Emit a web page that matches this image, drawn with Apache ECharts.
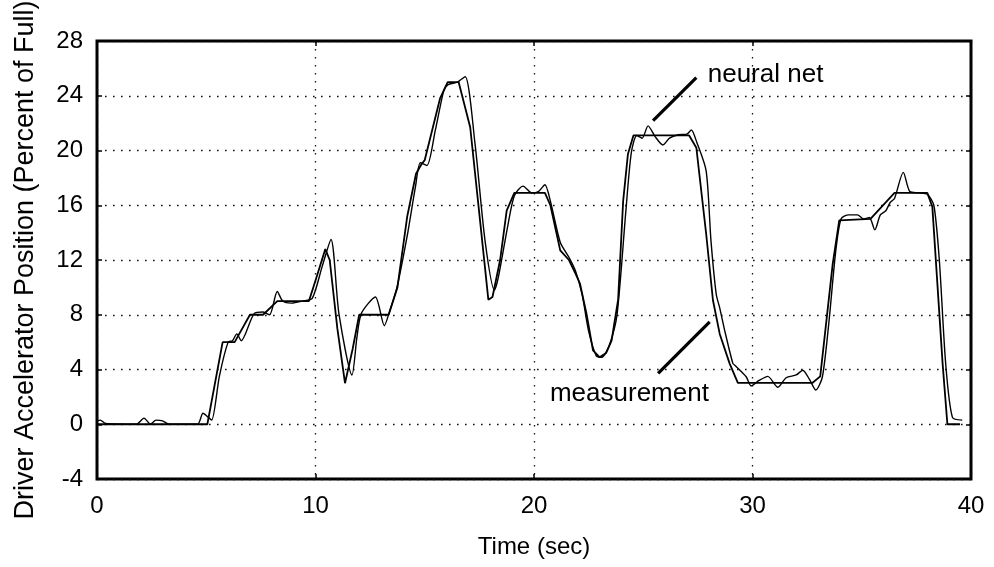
<!DOCTYPE html>
<html>
<head>
<meta charset="utf-8">
<script src="https://cdn.jsdelivr.net/npm/echarts@6/dist/echarts.min.js"></script>
<style>
html,body{margin:0;padding:0;background:#fff;}
#chart{width:994px;height:567px;}
</style>
</head>
<body>
<div id="chart"></div>
<script>
// ---- data ----
var measTime  = [0, 5.05, 5.75, 6.3, 7.0, 7.6, 8.25, 9.7, 10.0, 10.45, 10.65, 11.0, 11.35, 11.7, 12.0, 13.35, 13.75, 14.2, 14.6, 14.85, 15.0, 15.7, 16.05, 16.55, 17.08, 17.53, 17.91, 18.1, 18.45, 18.75, 19.1, 20.5, 20.75, 21.2, 21.6, 21.9, 22.1, 22.4, 22.7, 23.0, 23.3, 23.55, 23.85, 24.08, 24.3, 24.55, 27.1, 27.43, 27.88, 28.19, 28.5, 28.95, 29.33, 32.75, 33.1, 33.67, 33.97, 35.4, 36.5, 38.0, 38.23, 38.7, 38.92, 39.5];
var measValue = [0, 0, 6.0, 6.0, 8.0, 8.0, 9.0, 9.0, 10.5, 12.8, 12.0, 7.0, 3.0, 5.5, 8.0, 8.0, 10.0, 15.2, 18.3, 19.0, 19.3, 23.8, 25.0, 25.0, 21.7, 14.9, 9.1, 9.3, 12.0, 15.6, 16.9, 16.9, 16.0, 12.7, 12.0, 11.0, 10.3, 8.1, 5.4, 4.9, 5.2, 6.1, 9.1, 16.3, 19.75, 21.1, 21.1, 20.2, 13.9, 9.06, 6.6, 4.45, 3.03, 3.03, 3.5, 11.7, 14.9, 15.0, 16.9, 16.9, 15.9, 4.45, 0.0, 0.0];

var nnTime  = [0, 0.15, 0.4, 1.8, 2.15, 2.45, 2.7, 3.0, 3.3, 4.6, 4.85, 5.1, 5.25, 5.6, 6.0, 6.2, 6.4, 6.6, 7.2, 7.6, 7.9, 8.25, 8.5, 8.9, 9.4, 9.85, 10.3, 10.71, 11.07, 11.67, 11.9, 12.1, 12.74, 13.15, 13.4, 13.73, 14.19, 14.57, 14.8, 15.1, 15.48, 15.86, 16.05, 16.5, 16.85, 17.3, 17.76, 18.19, 18.37, 18.8, 19.1, 19.5, 19.9, 20.2, 20.5, 20.75, 21.2, 21.6, 21.9, 22.2, 22.5, 22.85, 23.1, 23.45, 23.8, 24.2, 24.45, 24.7, 24.95, 25.22, 25.55, 25.9, 26.2, 26.6, 27.0, 27.2, 27.45, 27.88, 28.1, 28.34, 28.5, 28.72, 29.1, 29.2, 29.71, 29.94, 30.3, 30.7, 31.16, 31.54, 32.0, 32.3, 32.6, 32.9, 33.2, 33.5, 33.8, 34.05, 34.4, 34.8, 35.1, 35.35, 35.6, 35.85, 36.1, 36.3, 36.5, 36.9, 37.2, 37.6, 38.0, 38.3, 38.55, 38.84, 39.15, 39.6];
var nnValue = [0.25, 0.3, 0.05, 0.0, 0.45, 0.0, 0.3, 0.25, 0.0, 0.0, 0.8, 0.5, 0.3, 3.5, 6.0, 6.1, 6.6, 6.1, 8.1, 8.2, 8.0, 9.7, 9.0, 8.85, 9.0, 9.2, 11.5, 13.5, 8.1, 3.6, 6.4, 8.1, 9.3, 7.2, 8.3, 10.0, 13.7, 17.3, 19.1, 18.9, 21.45, 24.3, 24.8, 25.0, 25.4, 20.5, 13.4, 9.8, 10.75, 14.5, 16.7, 17.4, 16.9, 17.0, 17.5, 16.3, 13.3, 12.2, 11.2, 9.5, 6.8, 5.0, 4.9, 5.8, 8.0, 15.5, 19.8, 21.1, 20.9, 21.8, 21.0, 20.4, 20.9, 21.15, 21.2, 21.5, 20.6, 18.5, 13.4, 9.5, 8.5, 6.9, 4.45, 4.3, 3.47, 2.8, 3.2, 3.5, 2.7, 3.4, 3.6, 3.95, 3.3, 2.5, 3.47, 7.5, 12.5, 15.0, 15.3, 15.3, 15.0, 15.1, 14.2, 15.3, 15.6, 16.2, 16.5, 18.4, 17.0, 16.9, 16.8, 16.0, 12.0, 4.45, 0.5, 0.3];

var xTicks = [0, 10, 20, 30, 40];
var yTicks = [-4, 0, 4, 8, 12, 16, 20, 24, 28];

var annotations = [
  {text: 'neural net',  from: [25.45, 22.18], to: [27.43, 25.33], at: [27.95, 25.4]},
  {text: 'measurement', from: [25.68, 3.72],  to: [28.04, 7.48],  at: [20.73, 2.1]}
];

function pairs(ts, vs) { return ts.map(function (t, i) { return [t, vs[i]]; }); }

var FONT = '"Liberation Sans", Arial, Helvetica, sans-serif';
var gridDots = {color: '#111', width: 1.3, type: [1.6, 6.4]};
var tickStyle = {show: true, inside: true, length: 5, lineStyle: {color: '#000', width: 1.5}};

var chart = echarts.init(document.getElementById('chart'), null, {renderer: 'canvas'});

var option = {
  animation: false,
  backgroundColor: '#fff',
  grid: {left: 97, right: 23, top: 41, bottom: 88, containLabel: false, outerBoundsMode: 'none',
    show: true, borderColor: '#000', borderWidth: 3, backgroundColor: 'transparent'},
  xAxis: [{
    type: 'value', position: 'bottom', min: xTicks[0], max: xTicks[xTicks.length - 1], interval: 10,
    name: 'Time (sec)', nameLocation: 'middle', nameGap: 56,
    nameTextStyle: {fontFamily: FONT, fontSize: 24, color: '#000'},
    axisLine: {show: false, onZero: false},
    axisTick: tickStyle,
    axisLabel: {fontFamily: FONT, fontSize: 24, color: '#000', margin: 15},
    splitLine: {show: true, lineStyle: gridDots}
  }, {
    type: 'value', position: 'top', min: xTicks[0], max: xTicks[xTicks.length - 1], interval: 10,
    axisLine: {show: false, onZero: false}, axisLabel: {show: false},
    axisTick: tickStyle,
    splitLine: {show: false}
  }],
  yAxis: [{
    type: 'value', position: 'left', min: yTicks[0], max: yTicks[yTicks.length - 1], interval: 4,
    name: 'Driver Accelerator Position (Percent of Full)', nameLocation: 'middle', nameGap: 58,
    nameTextStyle: {fontFamily: FONT, fontSize: 27, color: '#000'},
    axisLine: {show: false, onZero: false},
    axisTick: tickStyle,
    axisLabel: {fontFamily: FONT, fontSize: 24, color: '#000', margin: 14},
    splitLine: {show: true, lineStyle: gridDots}
  }, {
    type: 'value', position: 'right', min: yTicks[0], max: yTicks[yTicks.length - 1], interval: 4,
    axisLine: {show: false, onZero: false}, axisLabel: {show: false},
    axisTick: tickStyle,
    splitLine: {show: false}
  }],
  series: [{
    name: 'measurement', type: 'line', data: pairs(measTime, measValue),
    showSymbol: false, symbol: 'none', smooth: false,
    lineStyle: {color: '#000', width: 1.8},
    z: 3,
    markLine: {
      silent: true, symbol: ['none', 'none'], label: {show: false},
      lineStyle: {color: '#000', width: 3.2, type: 'solid'},
      data: annotations.map(function (a) { return [{coord: a.from}, {coord: a.to}]; })
    }
  }, {
    name: 'neural net', type: 'line', data: pairs(nnTime, nnValue),
    showSymbol: false, symbol: 'none', smooth: 0.25,
    lineStyle: {color: '#000', width: 1.4},
    z: 4
  }]
};
chart.setOption(option);

var texts = annotations.map(function (a) {
  var p = chart.convertToPixel({xAxisIndex: 0, yAxisIndex: 0}, a.at);
  return {
    type: 'text', left: p[0], top: p[1] - 15, z: 10,
    style: {text: a.text, fontFamily: FONT, fontSize: 26, fill: '#000'}
  };
});
chart.setOption({graphic: texts});
</script>
</body>
</html>
